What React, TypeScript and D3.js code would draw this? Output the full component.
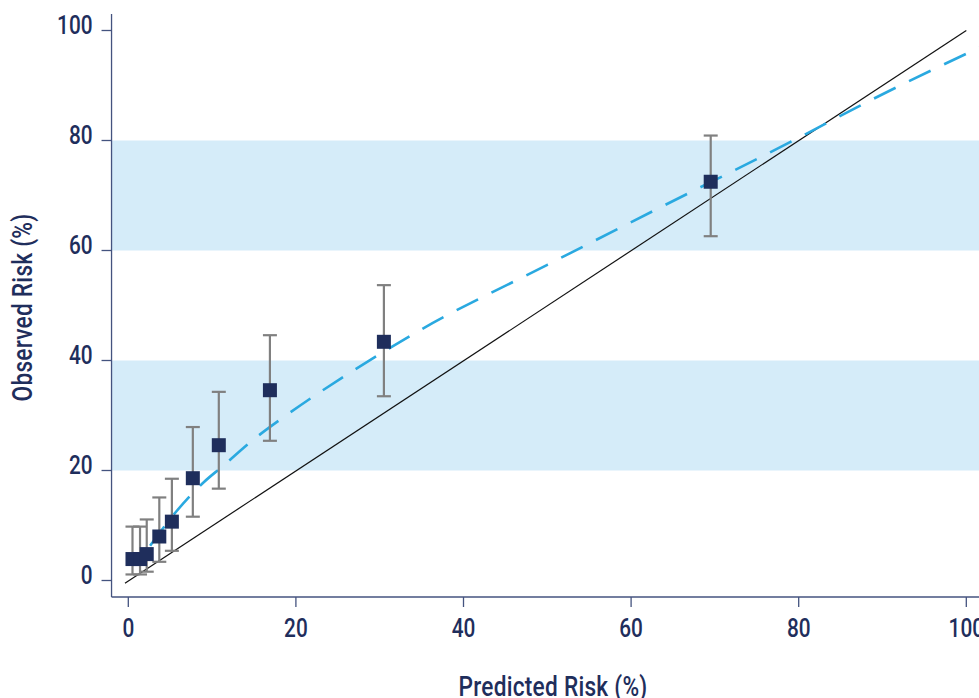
import React from 'react';
import * as d3 from 'd3';

// calibration groups: predicted (x), observed (y) with 95% CI
const predicted = [0.5, 1.4, 2.2, 3.7, 5.2, 7.7, 10.8, 16.9, 30.5, 69.5];
const observed = [3.9, 3.9, 4.8, 8.0, 10.7, 18.6, 24.6, 34.6, 43.4, 72.5];
const ciLow = [1.1, 1.1, 1.6, 3.4, 5.4, 11.6, 16.7, 25.4, 33.5, 62.6];
const ciHigh = [9.8, 9.8, 11.1, 15.1, 18.5, 27.9, 34.3, 44.6, 53.7, 80.9];

// smoothed calibration curve (dashed)
const fitX = [2.6, 5.7, 9.1, 11.2, 15, 18.9, 27.1, 34.8, 50, 63.7, 80, 88.3, 101.7];
const fitY = [6.3, 12.5, 18.0, 20.7, 25.7, 30.1, 38.4, 45.5, 57.4, 68.0, 80.5, 87.1, 97.0];

const xTicks = [0, 20, 40, 60, 80, 100];
const yTicks = [0, 20, 40, 60, 80, 100];
const bands: [number, number][] = [[20, 40], [60, 80]];

const W = 979;
const H = 698;
const navy = '#1f2e5c';
const axisColor = '#44537f';
const font = 'Roboto, "Liberation Sans", sans-serif';

// condensed text: squeeze a normal face horizontally
const Narrow: React.FC<{
  x: number; y: number; anchor?: string; size: number; rotate?: number; squeeze?: number;
  spacing?: number; children: React.ReactNode;
}> = ({ x, y, anchor = 'start', size, rotate = 0, squeeze = 0.8, spacing = 0, children }) => (
  <text
    transform={`translate(${x},${y}) rotate(${rotate}) scale(${squeeze},1)`}
    textAnchor={anchor}
    fontSize={size}
    fontWeight={500}
    letterSpacing={spacing}
    fill={navy}
  >
    {children}
  </text>
);

export default function App() {
  const x = d3.scaleLinear().domain([0, 100]).range([128.3, 966.3]);
  const y = d3.scaleLinear().domain([0, 100]).range([580.5, 30.5]);

  const axisX = x(-2);      // left axis line
  const axisY = y(-3.0);    // bottom axis line
  const axisTop = y(103);

  const fitLine = d3.line<number>()
    .x(i => x(fitX[i]))
    .y(i => y(fitY[i]))
    .curve(d3.curveMonotoneX)(fitX.map((_, i) => i)) || '';

  const sq = 14;
  const cap = 7;

  return (
    <svg width={W} height={H} style={{ position: 'absolute', left: 0, top: 0, fontFamily: font }}>
      <rect width={W} height={H} fill="#fff" />
      {bands.map(([a, b]) => (
        <rect key={a} x={axisX} y={y(b)} width={W - axisX} height={y(a) - y(b)} fill="#d5ecf9" />
      ))}

      {/* axes */}
      <line x1={axisX} x2={axisX} y1={axisTop} y2={axisY} stroke={axisColor} strokeWidth={1.3} />
      <line x1={axisX} x2={W} y1={axisY} y2={axisY} stroke={axisColor} strokeWidth={1.3} />
      {yTicks.map(t => (
        <g key={'y' + t}>
          <line x1={axisX - 10} x2={axisX} y1={y(t)} y2={y(t)} stroke={axisColor} strokeWidth={1.3} />
          <Narrow x={axisX - 19} y={y(t) + 3} anchor="end" size={26}>{t}</Narrow>
        </g>
      ))}
      {xTicks.map(t => (
        <g key={'x' + t}>
          <line x1={x(t)} x2={x(t)} y1={axisY} y2={axisY + 10} stroke={axisColor} strokeWidth={1.3} />
          <Narrow x={x(t)} y={637} anchor="middle" size={26}>{t}</Narrow>
        </g>
      ))}
      <Narrow x={553} y={696} anchor="middle" size={27} squeeze={0.84} spacing={0.3}>Predicted Risk (%)</Narrow>
      <Narrow x={32} y={y(50) + 2} anchor="middle" size={27} rotate={-90} squeeze={0.84} spacing={0.3}>Observed Risk (%)</Narrow>

      {/* identity line */}
      <line x1={x(-0.4)} y1={y(-0.5)} x2={x(100)} y2={y(100)} stroke="#111" strokeWidth={1.2} />

      {/* fitted curve */}
      <path d={fitLine} fill="none" stroke="#2aa9e0" strokeWidth={2.6} strokeDasharray="24,15" />

      {/* error bars */}
      {predicted.map((p, i) => (
        <g key={'e' + i} stroke="#808080" strokeWidth={2.2}>
          <line x1={x(p)} x2={x(p)} y1={y(ciLow[i])} y2={y(ciHigh[i])} />
          <line x1={x(p) - cap} x2={x(p) + cap} y1={y(ciLow[i])} y2={y(ciLow[i])} />
          <line x1={x(p) - cap} x2={x(p) + cap} y1={y(ciHigh[i])} y2={y(ciHigh[i])} />
        </g>
      ))}

      {/* points */}
      {predicted.map((p, i) => (
        <rect key={'p' + i} x={x(p) - sq / 2} y={y(observed[i]) - sq / 2} width={sq} height={sq} fill={navy} />
      ))}
    </svg>
  );
}
